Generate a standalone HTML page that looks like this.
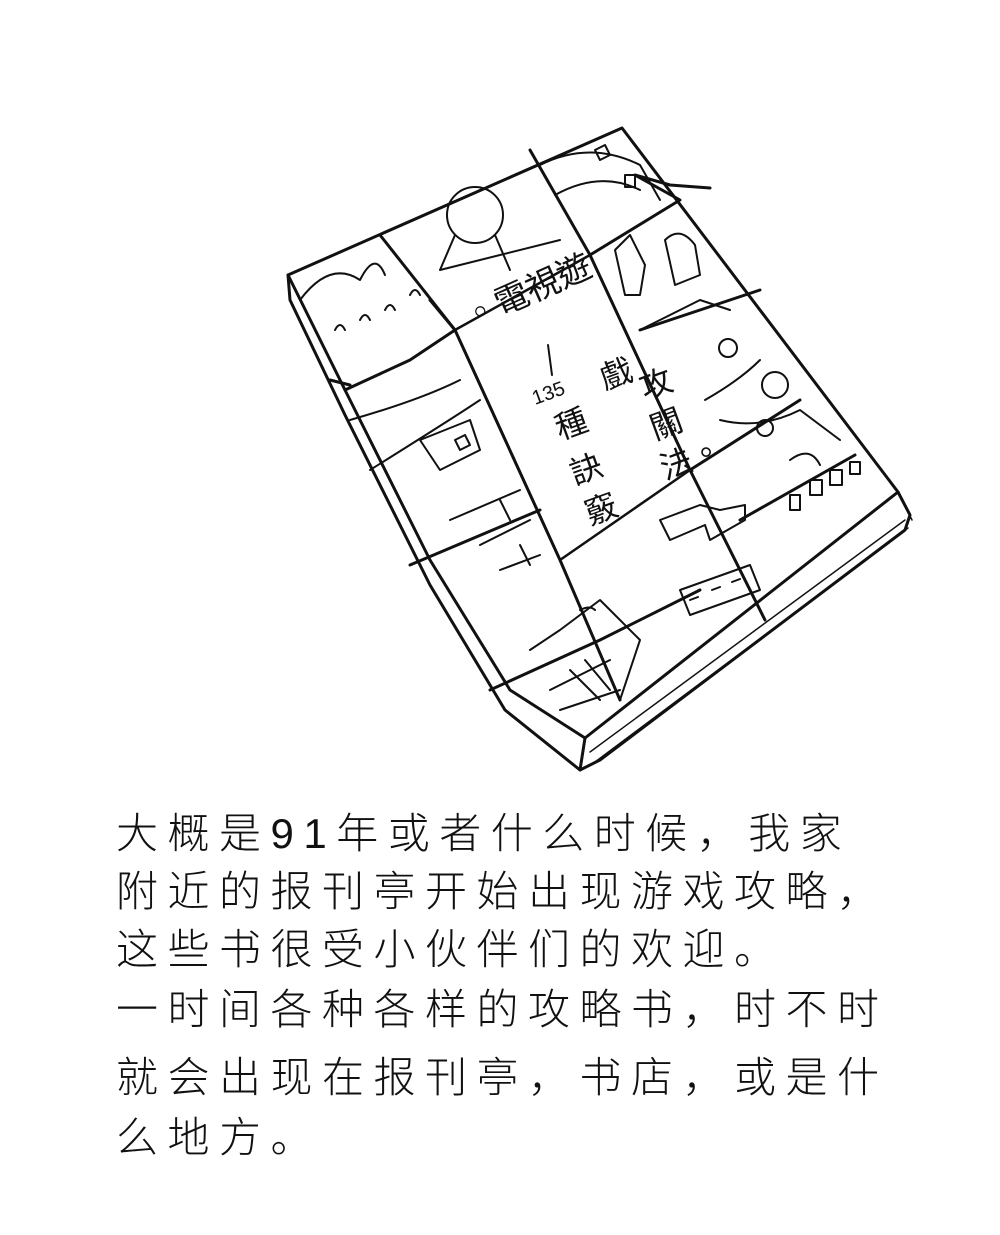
<!DOCTYPE html>
<html><head><meta charset="utf-8"><style>
body{margin:0;background:#fff;width:1000px;height:1235px;overflow:hidden;position:relative}
.t{position:absolute;left:116px;font-family:"Liberation Sans","WenQuanYi Zen Hei","Noto Sans CJK SC",sans-serif;font-size:42px;letter-spacing:9.5px;color:#111;white-space:nowrap;font-weight:300}
svg{position:absolute;left:0;top:0}
</style></head><body>
<svg width="1000" height="1235" viewBox="0 0 1000 1235" fill="none" stroke="#111" stroke-width="3" stroke-linejoin="round" stroke-linecap="round">
<path d="M288 275 L622 128 L898 492 L585 738 L510 690 L430 560 L345 390 Z" fill="#fff"/>
<path d="M288 275 L290 300 L345 415 L430 585 L505 710 L580 770 L600 760 L905 530 L910 515 L898 492"/>
<path d="M585 738 L580 770"/>
<path d="M898 492 L912 520 M590 752 L905 520 M595 762 L908 528" stroke-width="1.5"/>
<path d="M380 235 L455 330 L560 560 L620 700"/>
<path d="M530 150 L590 255 L690 470 L765 620"/>
<path d="M345 390 L410 360 L455 330"/>
<path d="M590 255 L680 200 L635 175 L670 185 L710 188"/>
<path d="M640 330 L760 290 M690 470 L800 400"/>
<path d="M740 520 L855 455"/>
<path d="M410 565 L540 510 M490 690 L600 640 L700 590"/>
<path d="M350 385 L330 380 M455 330 L430 300"/>
<path d="M455 330 L590 255 L690 470 L560 560 Z" stroke-width="2.5"/>
<g stroke-width="2">
<circle cx="475" cy="215" r="28"/><path d="M455 235 L440 270 M495 235 L510 270 M440 270 L560 240"/>
<path d="M300 300 Q330 260 360 280 Q375 250 385 275 M335 330 q5 -10 10 0 M360 320 q5 -10 10 0 M385 310 q5 -10 10 0 M410 295 q5 -10 10 0"/>
<path d="M350 420 Q420 400 460 380 M370 470 Q450 420 480 400 M420 440 L470 420 L480 450 L440 470 Z M455 440 l10 -5 l5 10 l-10 5 z"/>
<path d="M540 165 Q590 140 640 165 L660 200 M555 195 Q600 170 640 190 M595 150 l10 -5 l5 10 l-10 5z M625 175 l10 0 l0 12 l-10 0 z"/>
<path d="M615 250 L630 235 L645 265 L640 295 L625 295 Z M665 240 q15 -15 30 5 l5 30 l-25 10z M640 330 L700 300 L730 310"/>
<circle cx="728" cy="348" r="9"/><circle cx="775" cy="385" r="13"/><circle cx="765" cy="428" r="8"/>
<path d="M705 400 Q740 380 760 360 M720 420 Q760 430 800 410 L840 440"/>
<path d="M790 460 q20 -15 30 5 M790 495 l10 0 l0 15 l-10 0 z M810 480 l12 0 l0 15 l-12 0z M830 470 l12 0 l0 15 l-12 0z M850 462 l10 0 l0 12 l-10 0z"/>
<path d="M450 520 L520 490 M480 545 L530 520 M500 570 L540 555 M500 500 l10 20 M520 545 l10 20"/>
<path d="M660 520 L700 505 L720 510 L745 505 L745 520 L710 540 L705 525 L670 540 Z M680 590 L750 565 L760 590 L690 615 Z M690 600 l8 -3 M712 590 l8 -3 M732 582 l8 -3"/>
<path d="M530 650 L560 630 L600 600 L640 640 L620 700 M550 690 L610 660 M560 710 L620 690 M570 670 L600 700 M585 660 L610 690 M580 610 q10 -5 15 0"/>
</g>
<text x="470" y="330" transform="rotate(-24 470 330)" font-family="WenQuanYi Zen Hei,Noto Sans CJK TC,sans-serif" font-size="34" fill="#111" stroke="none">◦電視遊</text>
<g font-family="WenQuanYi Zen Hei,Noto Sans CJK TC,sans-serif" font-size="32" fill="#111" stroke="none">
<text x="605" y="390" transform="rotate(-20 605 390)">戲</text>
<text x="560" y="440" transform="rotate(-20 560 440)">種</text>
<text x="575" y="485" transform="rotate(-20 575 485)">訣</text>
<text x="590" y="525" transform="rotate(-20 590 525)">竅</text>
<text x="645" y="400" transform="rotate(-20 645 400)">攻</text>
<text x="655" y="440" transform="rotate(-20 655 440)">關</text>
<text x="665" y="480" transform="rotate(-20 665 480)">法。</text>
</g>
<text x="535" y="405" font-family="Liberation Sans,sans-serif" font-size="20" fill="#111" stroke="none" transform="rotate(-20 535 405)">135</text>
<path d="M548 345 L552 375" stroke-width="2"/>
</svg>
<div class="t" style="top:800px">大概是91年或者什么时候，我家</div>
<div class="t" style="top:858px">附近的报刊亭开始出现游戏攻略，</div>
<div class="t" style="top:916px">这些书很受小伙伴们的欢迎。</div>
<div class="t" style="top:976px">一时间各种各样的攻略书，时不时</div>
<div class="t" style="top:1044px">就会出现在报刊亭，书店，或是什</div>
<div class="t" style="top:1104px">么地方。</div>
</body></html>
